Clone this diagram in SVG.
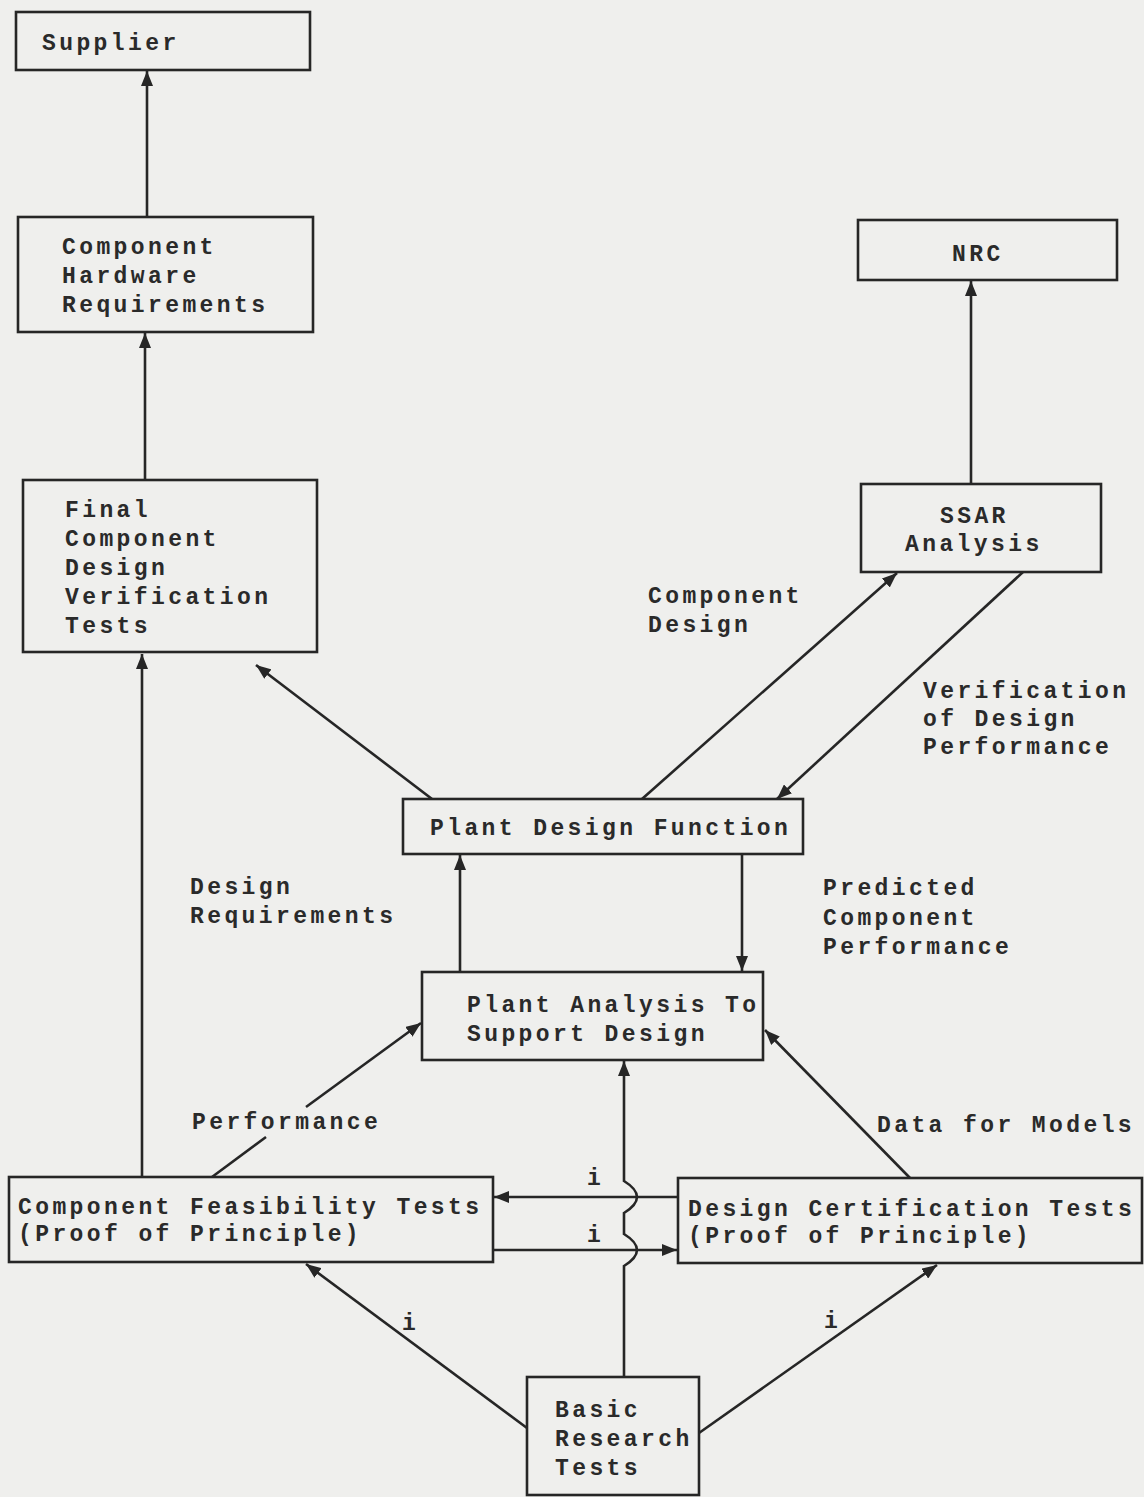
<svg xmlns="http://www.w3.org/2000/svg" width="1144" height="1497" viewBox="0 0 1144 1497">
<defs>
<style>
.box{fill:none;stroke:#262626;stroke-width:2.6}
.t{font-family:"Liberation Mono","Courier New",monospace;font-weight:bold;font-size:23px;letter-spacing:3.4px;fill:#2a2a2a}
.ln{fill:none;stroke:#262626;stroke-width:2.6}
.ar{marker-end:url(#ah)}
</style>
<marker id="ah" markerUnits="userSpaceOnUse" markerWidth="16" markerHeight="12" refX="15" refY="6" orient="auto">
<path d="M0,0 L15,6 L0,12 z" fill="#262626"/>
</marker>
</defs>
<rect x="0" y="0" width="1144" height="1497" fill="#efefed"/>

<g id="supplier">
<rect class="box" x="16" y="12" width="294" height="58"/>
<text class="t" x="42" y="50">Supplier</text>
</g>

<g id="component-hardware-requirements">
<rect class="box" x="18" y="217" width="295" height="115"/>
<text class="t" x="62" y="254">Component</text>
<text class="t" x="62" y="283">Hardware</text>
<text class="t" x="62" y="312">Requirements</text>
</g>

<g id="final-component-design-verification-tests">
<rect class="box" x="23" y="480" width="294" height="172"/>
<text class="t" x="65" y="517">Final</text>
<text class="t" x="65" y="546">Component</text>
<text class="t" x="65" y="575">Design</text>
<text class="t" x="65" y="604">Verification</text>
<text class="t" x="65" y="633">Tests</text>
</g>

<g id="nrc">
<rect class="box" x="858" y="220" width="259" height="60"/>
<text class="t" x="952" y="261">NRC</text>
</g>

<g id="ssar-analysis">
<rect class="box" x="861" y="484" width="240" height="88"/>
<text class="t" x="940" y="523">SSAR</text>
<text class="t" x="905" y="551">Analysis</text>
</g>

<g id="plant-design-function">
<rect class="box" x="403" y="799" width="400" height="55"/>
<text class="t" x="430" y="835">Plant Design Function</text>
</g>

<g id="plant-analysis">
<rect class="box" x="422" y="972" width="341" height="88"/>
<text class="t" x="467" y="1012">Plant Analysis To</text>
<text class="t" x="467" y="1041">Support Design</text>
</g>

<g id="component-feasibility-tests">
<rect class="box" x="9" y="1177" width="484" height="85"/>
<text class="t" x="18" y="1214">Component Feasibility Tests</text>
<text class="t" x="18" y="1241">(Proof of Principle)</text>
</g>

<g id="design-certification-tests">
<rect class="box" x="678" y="1178" width="464" height="85"/>
<text class="t" x="688" y="1216">Design Certification Tests</text>
<text class="t" x="688" y="1243">(Proof of Principle)</text>
</g>

<g id="basic-research-tests">
<rect class="box" x="527" y="1377" width="172" height="118"/>
<text class="t" x="555" y="1417">Basic</text>
<text class="t" x="555" y="1446">Research</text>
<text class="t" x="555" y="1475">Tests</text>
</g>

<g id="connectors">
<line class="ln ar" x1="147" y1="217" x2="147" y2="71"/>
<line class="ln ar" x1="145" y1="480" x2="145" y2="333"/>
<line class="ln ar" x1="971" y1="484" x2="971" y2="281"/>
<line class="ln ar" x1="142" y1="1177" x2="142" y2="654"/>
<line class="ln ar" x1="432" y1="799" x2="256" y2="665"/>
<line class="ln ar" x1="642" y1="799" x2="897" y2="573"/>
<line class="ln ar" x1="1023" y1="572" x2="777" y2="799"/>
<line class="ln ar" x1="460" y1="972" x2="460" y2="855"/>
<line class="ln ar" x1="742" y1="854" x2="742" y2="971"/>
<line class="ln" x1="212" y1="1177" x2="266" y2="1137"/>
<line class="ln ar" x1="306" y1="1107" x2="421" y2="1023"/>
<line class="ln ar" x1="910" y1="1178" x2="765" y2="1030"/>
<path class="ln ar" d="M624,1377 V1266 Q650,1250 624,1234 V1213 Q650,1197 624,1181 V1061"/>
<line class="ln ar" x1="678" y1="1197" x2="494" y2="1197"/>
<line class="ln ar" x1="493" y1="1250" x2="677" y2="1250"/>
<line class="ln ar" x1="527" y1="1428" x2="306" y2="1264"/>
<line class="ln ar" x1="699" y1="1433" x2="937" y2="1265"/>
</g>

<g id="labels">
<text class="t" x="648" y="603">Component</text>
<text class="t" x="648" y="632">Design</text>
<text class="t" x="923" y="698">Verification</text>
<text class="t" x="923" y="726">of Design</text>
<text class="t" x="923" y="754">Performance</text>
<text class="t" x="190" y="894">Design</text>
<text class="t" x="190" y="923">Requirements</text>
<text class="t" x="823" y="895">Predicted</text>
<text class="t" x="823" y="925">Component</text>
<text class="t" x="823" y="954">Performance</text>
<text class="t" x="192" y="1129">Performance</text>
<text class="t" x="877" y="1132">Data for Models</text>
<text class="t" x="587" y="1185">i</text>
<text class="t" x="587" y="1242">i</text>
<text class="t" x="402" y="1330">i</text>
<text class="t" x="824" y="1328">i</text>
</g>
</svg>
